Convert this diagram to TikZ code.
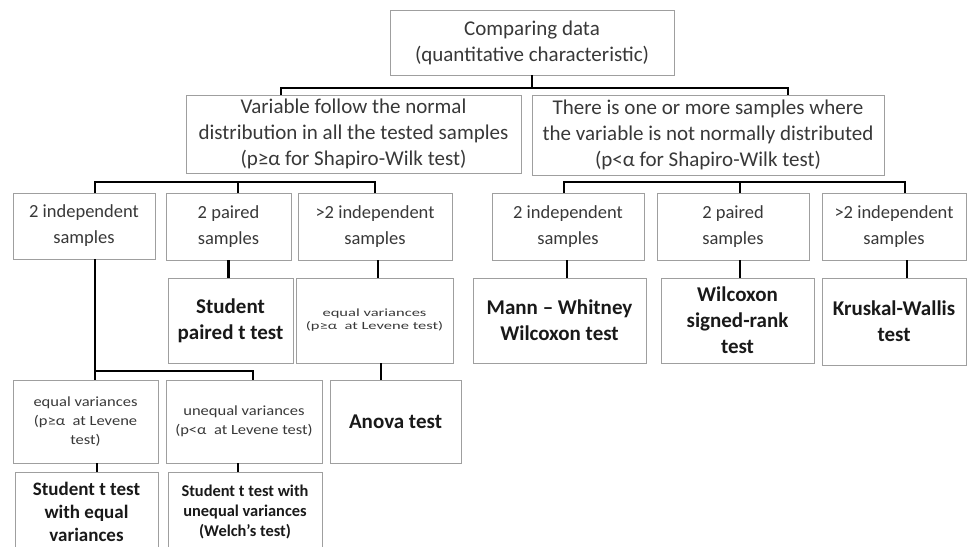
\documentclass[tikz,border=0pt]{standalone}
\usepackage{fontspec}
\setmainfont{Carlito}
\newfontfamily\widefont[FakeStretch=1.5]{Carlito}
\newfontfamily\halfwidefont[FakeStretch=1.18]{Carlito}
\usepackage{tikz}

\begin{document}
\begin{tikzpicture}[x=1pt,y=-1pt,
				box/.style={rectangle,draw=gray!75,line width=0.9pt,align=center,text=black!78,inner sep=1pt},
				big/.style={font=\fontsize{21}{26}\selectfont},
				mid/.style={font=\fontsize{18.5}{26}\selectfont},
				tiny/.style={font=\widefont\fontsize{11}{13}\selectfont},
				small/.style={font=\halfwidefont\fontsize{14}{19}\selectfont},
				result/.style={font=\fontsize{21}{26}\selectfont\bfseries,text=black!90},
				link/.style={line width=2.2pt,black}]
	\useasboundingbox (0,0) rectangle (968,546);
	\clip (0,0) rectangle (968,546);
	% level 1 and 2
	\node[box,big,minimum width=284,minimum height=65] (top) at (532,42.5) {Comparing data\\(quantitative characteristic)};
	\node[box,big,minimum width=335,minimum height=78] (normal) at (353.5,134) {Variable follow the normal\\distribution in all the tested samples\\(p≥α for Shapiro-Wilk test)};
	\node[box,big,minimum width=352,minimum height=80] (notnormal) at (708,135) {There is one or more samples where\\the variable is not normally distributed\\(p<α for Shapiro-Wilk test)};
	% level 3
	\node[box,mid,minimum width=142,minimum height=66] (Lind) at (84,226) {2 independent\\samples};
	\node[box,mid,minimum width=125,minimum height=67] (Lpair) at (228.5,226.5) {2 paired\\samples};
	\node[box,mid,minimum width=154,minimum height=67] (Lmore) at (375,226.5) {>2 independent\\samples};
	\node[box,mid,minimum width=152,minimum height=67] (Rind) at (568,226.5) {2 independent\\samples};
	\node[box,mid,minimum width=152,minimum height=67] (Rpair) at (733,226.5) {2 paired\\samples};
	\node[box,mid,minimum width=144,minimum height=67] (Rmore) at (894,226.5) {>2 independent\\samples};
	% level 4
	\node[box,result,minimum width=125,minimum height=85] (Lpairtest) at (230.5,320.5) {Student\\paired t test};
	\node[box,tiny,minimum width=157,minimum height=85] (Lmoreeq) at (374.5,320.5) {equal variances\\(p≥α\ \ at Levene test)};
	\node[box,result,minimum width=173,minimum height=85] (Rindtest) at (559.5,320.5) {Mann – Whitney\\Wilcoxon test};
	\node[box,result,minimum width=153,minimum height=85] (Rpairtest) at (737.5,320.5) {Wilcoxon\\signed-rank\\test};
	\node[box,result,minimum width=144,minimum height=87] (Rmoretest) at (894,321.5) {Kruskal-Wallis\\test};
	% level 5
	\node[box,small,minimum width=145,minimum height=83] (eqvar) at (85.5,421.5) {equal variances\\(p≥α\ \ at Levene\\test)};
	\node[box,small,minimum width=156,minimum height=83] (uneqvar) at (244,421.5) {unequal variances\\(p<α\ \ at Levene test)};
	\node[box,result,minimum width=131,minimum height=83] (anova) at (395.5,421.5) {Anova test};
	% level 6
	\node[box,font=\fontsize{19}{23}\selectfont\bfseries,text=black!90,minimum width=143,minimum height=80] (ttesteq) at (86.5,512) {Student t test\\with equal\\variances};
	\node[box,font=\fontsize{16.4}{20}\selectfont\bfseries,text=black!90,minimum width=154,minimum height=80] (ttestuneq) at (245,512) {Student t test with\\unequal variances\\(Welch's test)};
	% junctions
	\coordinate (j1) at (281,88);
	\coordinate (j2) at (788,88);
	\coordinate (k1) at (95,182);
	\coordinate (k2) at (238,182);
	\coordinate (k3) at (375,182);
	\coordinate (m1) at (564,182);
	\coordinate (m2) at (740,182);
	\coordinate (m3) at (905,182);
	\coordinate (n1) at (95,371);
	\coordinate (n2) at (253,371);
	% connectors
	\draw[link] (top.south) -- (top.south |- j1);
	\draw[link] (j1 |- normal.north) -- (j1) -- (j2) -- (j2 |- notnormal.north);
	\draw[link] (k1 |- Lind.north) -- (k1) -- (k3) -- (k3 |- Lmore.north);
	\draw[link] (k2) -- (k2 |- Lpair.north);
	\draw[link] (m1 |- Rind.north) -- (m1) -- (m3) -- (m3 |- Rmore.north);
	\draw[link] (m2) -- (m2 |- Rpair.north);
	\draw[link] (Lpair.south) -- (Lpairtest.north -| Lpair.south);
	\draw[link] (Lmore.south -| 378,0) -- (Lmoreeq.north -| 378,0);
	\draw[link] (Rind.south -| 567,0) -- (Rindtest.north -| 567,0);
	\draw[link] (Rpair.south -| 740,0) -- (Rpairtest.north -| 740,0);
	\draw[link] (Rmore.south -| 907,0) -- (Rmoretest.north -| 907,0);
	\draw[link] (Lind.south -| n1) -- (n1) -- (n2) -- (n2 |- uneqvar.north);
	\draw[link] (n1) -- (n1 |- eqvar.north);
	\draw[link] (Lmoreeq.south -| 381,0) -- (anova.north -| 381,0);
	\draw[link] (eqvar.south -| 97,0) -- (ttesteq.north -| 97,0);
	\draw[link] (uneqvar.south -| 238,0) -- (ttestuneq.north -| 238,0);
\end{tikzpicture}
\end{document}
